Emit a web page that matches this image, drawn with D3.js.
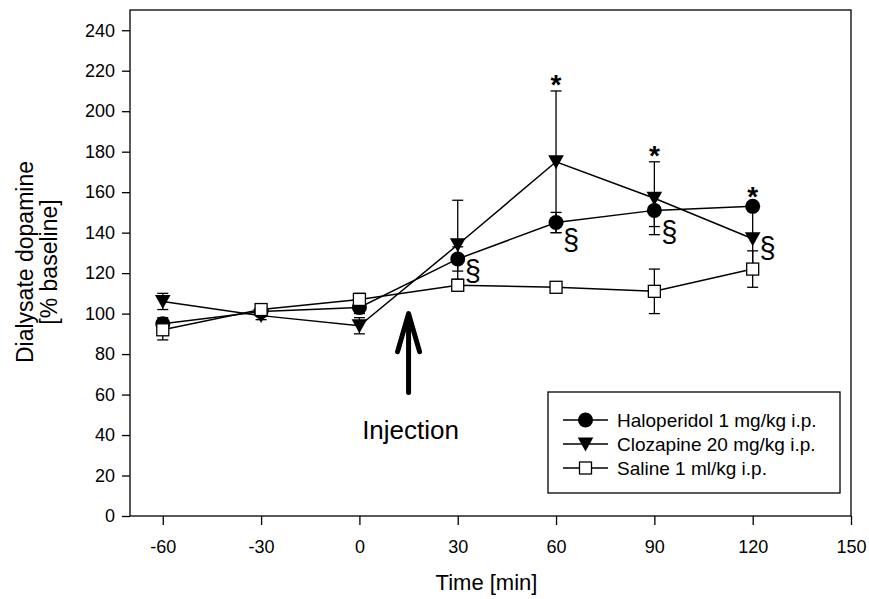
<!DOCTYPE html>
<html>
<head>
<meta charset="utf-8">
<script src="https://cdn.jsdelivr.net/npm/d3@7"></script>
<style>
  html, body { margin: 0; padding: 0; background: #fff; }
  svg { display: block; }
  text { font-family: "Liberation Sans", Arial, Helvetica, sans-serif; fill: #000; }
</style>
</head>
<body>
<svg id="chart" width="869" height="599"></svg>
<script>
// ---- data ----
const times = [-60, -30, 0, 30, 60, 90, 120];
const haloMean = [95, 101, 103, 127, 145, 151, 153];
const haloErr  = [3, 2, 3, 6, 5, 8, 2];
const cloMean  = [106, 99, 94, 134, 175, 157, 137];
const cloErr   = [4, 2, 4, 22, 35, 18, 14];
const salMean  = [92, 102, 107, 114, 113, 111, 122];
const salErr   = [5, 2, 3, 3, 2, 11, 9];
const xTicks = [-60, -30, 0, 30, 60, 90, 120, 150];
const yTicks = [0, 20, 40, 60, 80, 100, 120, 140, 160, 180, 200, 220, 240];
const seriesNames = ["Haloperidol 1 mg/kg i.p.", "Clozapine 20 mg/kg i.p.", "Saline 1 ml/kg i.p."];
const starTimes = [60, 90, 120];
const sectTimes = [30, 60, 90, 120];
const sectValues = [121, 136, 140, 132];
const injectionTime = 15;
const injectionFrom = 61, injectionTo = 100;

// ---- layout ----
const svg = d3.select("#chart");
const L = 130, R = 851, T = 10, B = 516;
const x = d3.scaleLinear().domain([-70, 150]).range([L, R]);
const y = d3.scaleLinear().domain([0, 250]).range([B, T]);
const fmt = d => String(d);

// frame
svg.append("rect").attr("x", L).attr("y", T).attr("width", R - L).attr("height", B - T)
  .attr("fill", "none").attr("stroke", "#000").attr("stroke-width", 1.3);

// axes
const xAxis = svg.append("g").attr("transform", `translate(0,${B})`)
  .call(d3.axisBottom(x).tickValues(xTicks).tickSize(9).tickPadding(15).tickFormat(fmt));
const yAxis = svg.append("g").attr("transform", `translate(${L},0)`)
  .call(d3.axisLeft(y).tickValues(yTicks).tickSize(8).tickPadding(7).tickFormat(fmt));
[xAxis, yAxis].forEach(g => {
  g.select(".domain").remove();
  g.selectAll(".tick line").attr("stroke", "#000").attr("stroke-width", 1.3);
  g.selectAll(".tick text").attr("font-size", 18).attr("font-family", '"Liberation Sans", Arial, sans-serif').attr("fill", "#000");
});

// axis titles
svg.append("text").attr("x", (L + R) / 2 - 4).attr("y", 590).attr("text-anchor", "middle")
  .attr("font-size", 22).text("Time [min]");
const yt = svg.append("text").attr("transform", `translate(33,262) rotate(-90)`).attr("text-anchor", "middle").attr("font-size", 23);
yt.append("tspan").attr("x", 0).attr("dy", 0).text("Dialysate dopamine");
yt.append("tspan").attr("x", 0).attr("dy", 24).text("[% baseline]");

// series
const series = [
  { name: seriesNames[0], mean: haloMean, err: haloErr, marker: "circle" },
  { name: seriesNames[1], mean: cloMean, err: cloErr, marker: "triangle" },
  { name: seriesNames[2], mean: salMean, err: salErr, marker: "square" }
];

const line = d3.line().x(d => x(d[0])).y(d => y(d[1]));

function drawMarker(g, type, cx, cy) {
  if (type === "circle") {
    g.append("circle").attr("cx", cx).attr("cy", cy).attr("r", 7.5).attr("fill", "#000");
  } else if (type === "triangle") {
    g.append("path").attr("d", `M${cx - 7.8},${cy - 6.5}L${cx + 7.8},${cy - 6.5}L${cx},${cy + 7.5}Z`).attr("fill", "#000");
  } else {
    g.append("rect").attr("x", cx - 6).attr("y", cy - 6).attr("width", 12).attr("height", 12)
      .attr("fill", "#fff").attr("stroke", "#000").attr("stroke-width", 1.3);
  }
}

// error bars (draw first)
const eg = svg.append("g");
series.forEach(s => {
  times.forEach((t, i) => {
    const cx = x(t), y1 = y(s.mean[i] + s.err[i]), y2 = y(s.mean[i] - s.err[i]);
    eg.append("line").attr("x1", cx).attr("x2", cx).attr("y1", y1).attr("y2", y2).attr("stroke", "#000").attr("stroke-width", 1.3);
    [y1, y2].forEach(yy => eg.append("line").attr("x1", cx - 5.5).attr("x2", cx + 5.5).attr("y1", yy).attr("y2", yy).attr("stroke", "#000").attr("stroke-width", 1.3));
  });
});
// lines
series.forEach(s => {
  svg.append("path").datum(times.map((t, i) => [t, s.mean[i]])).attr("d", line)
    .attr("fill", "none").attr("stroke", "#000").attr("stroke-width", 1.5);
});
// markers
const mg = svg.append("g");
[series[1], series[0], series[2]].forEach(s => {
  times.forEach((t, i) => drawMarker(mg, s.marker, x(t), y(s.mean[i])));
});

// stars
starTimes.forEach(t => {
  const i = times.indexOf(t);
  const top = d3.max(series, s => s.mean[i] + s.err[i]);
  svg.append("text").attr("x", x(t)).attr("y", y(top) - 14).attr("dy", "0.62em")
    .attr("text-anchor", "middle").attr("font-size", 28).attr("font-weight", "bold").text("*");
});
// section signs
sectTimes.forEach((t, k) => {
  svg.append("text").attr("x", x(t) + 15).attr("y", y(sectValues[k])).attr("dy", "0.33em")
    .attr("text-anchor", "middle").attr("font-size", 29).text("§");
});

// injection arrow
const ax = x(injectionTime), aTop = y(injectionTo), aBot = y(injectionFrom);
svg.append("line").attr("x1", ax).attr("x2", ax).attr("y1", aTop + 2).attr("y2", aBot)
  .attr("stroke", "#000").attr("stroke-width", 5).attr("stroke-linecap", "round");
svg.append("path").attr("d", `M${ax - 11},${aTop + 38}L${ax},${aTop}L${ax + 11},${aTop + 38}`)
  .attr("fill", "none").attr("stroke", "#000").attr("stroke-width", 5).attr("stroke-linecap", "round").attr("stroke-linejoin", "round");
svg.append("text").attr("x", ax + 2).attr("y", 439).attr("text-anchor", "middle").attr("font-size", 26).text("Injection");

// legend
const lg = svg.append("g");
lg.append("rect").attr("x", 548).attr("y", 392).attr("width", 292).attr("height", 101)
  .attr("fill", "#fff").attr("stroke", "#000").attr("stroke-width", 1.3);
series.forEach((s, k) => {
  const ly = 420 + k * 24;
  lg.append("line").attr("x1", 563).attr("x2", 608).attr("y1", ly).attr("y2", ly).attr("stroke", "#000").attr("stroke-width", 1.5);
  drawMarker(lg, s.marker, 585.5, ly);
  lg.append("text").attr("x", 617).attr("y", ly).attr("dy", "0.36em").attr("font-size", 19).text(s.name);
});
</script>
</body>
</html>
